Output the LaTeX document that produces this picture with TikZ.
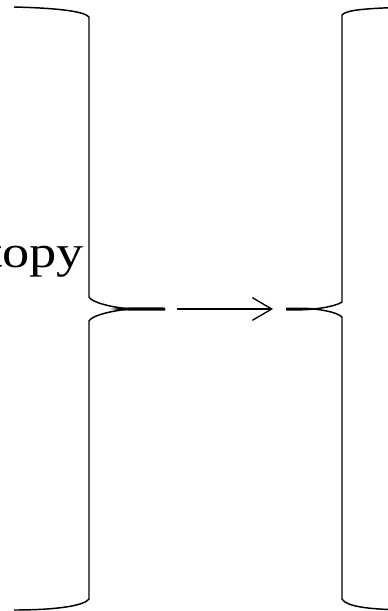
\documentclass[tikz,border=0pt]{standalone}
\usepackage{fontspec}
\setmainfont{Liberation Serif}
\usetikzlibrary{arrows.meta}
\tikzset{
  bracepath/.style={line width=1.1pt, line join=round},
  bracetip/.style={fill=black, draw=none},
  maparrow/.style={line width=1pt, -{Straight Barb[length=14.5pt, width=17pt, line width=1pt]}},
  lbltext/.style={anchor=base east, inner sep=0pt, font=\fontsize{34}{40}\selectfont}
}
\begin{document}
\begin{tikzpicture}[x=0.75pt, y=-0.75pt]
\useasboundingbox (0,0) rectangle (388,611);
% label (clipped by the picture's left edge)
\node[lbltext] (lbl) at (84,267) {\scalebox{1.2}[1]{isotopy}};
% named points
\coordinate (ltip) at (165,309);
\coordinate (rtip) at (286,309);
\coordinate (as) at (177,309);
\coordinate (ae) at (273,309);
% left brace
\draw[bracepath] (14,7) .. controls (55,8) and (84,11) .. (89,17) -- (89,297)
  .. controls (91,302) and (112,308) .. (133,309) -- (ltip);
\draw[bracepath] (ltip) -- (133,309) .. controls (112,310) and (91,316) .. (89,321)
  -- (89,599) .. controls (84,606) and (55,610) .. (14,610);
\fill[bracetip] (110,309) .. controls (120,308) and (126,307.4) .. (133,307.4) -- (165,307.5)
  -- (165,310.5) -- (133,310.6) .. controls (126,310.6) and (120,310) .. (110,309) -- cycle;
% right brace
\draw[bracepath] (417,7) .. controls (365,8) and (346,10) .. (342,15) -- (342,302)
  .. controls (338,305) and (325,308) .. (313,309) -- (rtip);
\draw[bracepath] (rtip) -- (313,309) .. controls (325,310) and (338,313) .. (342,317)
  -- (342,599) .. controls (346,606) and (365,610) .. (417,610);
\fill[bracetip] (286,307.5) -- (302,307.5) .. controls (310,307.7) and (316,308.4) .. (322,309)
  .. controls (316,309.6) and (310,310.3) .. (302,310.5) -- (286,310.5) -- cycle;
% arrow
\draw[maparrow] (as) -- (ae);
\end{tikzpicture}
\end{document}
